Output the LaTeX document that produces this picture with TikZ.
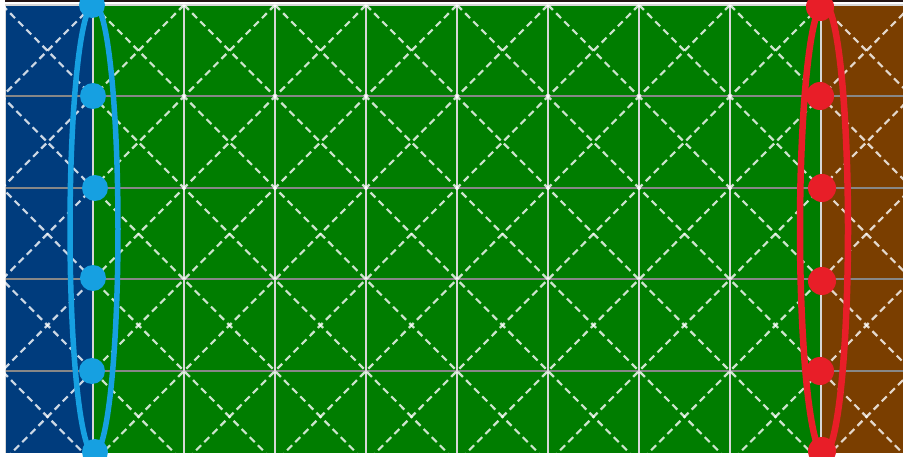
\documentclass[tikz,border=0pt]{standalone}
\usepackage{tikz}

\definecolor{leftblue}{RGB}{0,60,125}
\definecolor{midgreen}{RGB}{0,125,0}
\definecolor{rightbrown}{RGB}{122,62,0}
\definecolor{gridgray}{RGB}{135,135,135}
\definecolor{gridlight}{RGB}{215,215,215}
\definecolor{topdark}{RGB}{35,20,20}
\definecolor{ringblue}{RGB}{22,160,225}
\definecolor{ringred}{RGB}{232,30,40}

\begin{document}
\begin{tikzpicture}[
x=1pt,y=-1pt,
gridh/.style={draw=gridgray, line width=2pt},
gridv/.style={draw=gridlight, line width=2.2pt},
diag/.style={draw=white, draw opacity=0.8, line width=2.2pt, dash pattern=on 7pt off 4.5pt},
bluering/.style={draw=ringblue, line width=5.5pt},
redring/.style={draw=ringred, line width=6.5pt},
bluedot/.style={circle, fill=ringblue, inner sep=0pt, minimum size=26pt},
reddot/.style={circle, fill=ringred, inner sep=0pt, minimum size=28pt}
]
\useasboundingbox (0,0) rectangle (903,457);
\fill[white] (0,0) rectangle (903,457);

% three regions
\fill[leftblue] (5,5) rectangle (93,453);
\fill[midgreen] (93,5) rectangle (822,453);
\fill[rightbrown] (822,5) rectangle (903,453);
\fill[topdark] (5,0) rectangle (903,2.5);

% mesh
\begin{scope}
\clip (5,5) rectangle (903,453);
\foreach \j in {1,...,4}
  \draw[gridh] (5,5+91.5*\j) -- (903,5+91.5*\j);
\draw[gridlight, line width=2pt] (5,5) -- (903,5);
\draw[gridlight, line width=2pt] (5,5) -- (5,453);
\foreach \i in {1,...,9}
  \draw[gridv] (2+91*\i,5) -- (2+91*\i,453);
\foreach \k in {-5,...,9}
  \draw[diag] (2+91*\k,5) -- ++(455,457.5);
\foreach \k in {1,...,15}
  \draw[diag] (2+91*\k,5) -- ++(-455,457.5);
\end{scope}

% boundary rings
\begin{scope}
\clip (0,0) rectangle (903,457);
\draw[bluering] (94,229) ellipse [x radius=24, y radius=225];
\draw[redring] (824,229) ellipse [x radius=24, y radius=225];
\node[bluedot] (b0) at (92,5) {};
\node[bluedot] (b1) at (93,96) {};
\node[bluedot] (b2) at (95,188) {};
\node[bluedot] (b3) at (93,278) {};
\node[bluedot] (b4) at (92,371) {};
\node[bluedot] (b5) at (95,452) {};
\node[reddot] (r0) at (820,7) {};
\node[reddot] (r1) at (820,96) {};
\node[reddot] (r2) at (822,188) {};
\node[reddot] (r3) at (822,281) {};
\node[reddot] (r4) at (820,371) {};
\node[reddot] (r5) at (822,451) {};
\end{scope}
\end{tikzpicture}
\end{document}
